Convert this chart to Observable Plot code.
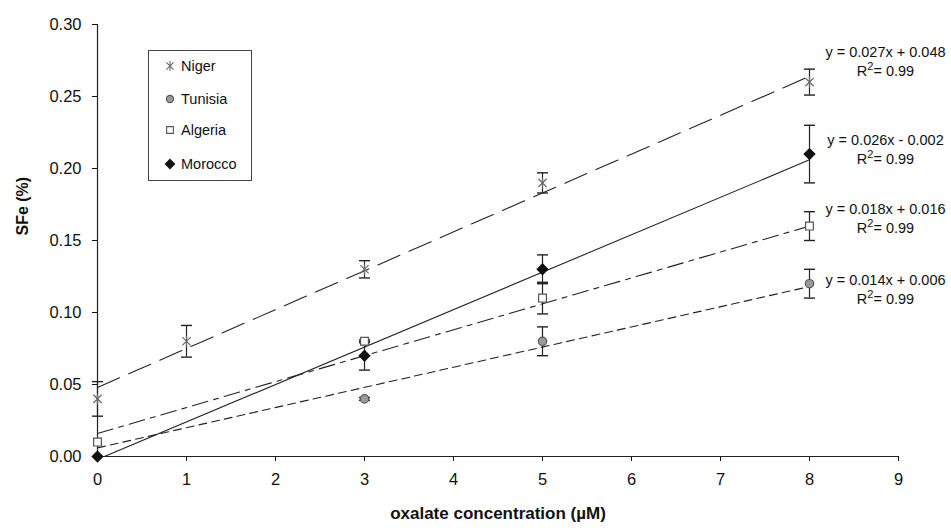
<!DOCTYPE html>
<html>
<head>
<meta charset="utf-8">
<script src="https://cdn.jsdelivr.net/npm/d3@7"></script>
<script src="https://cdn.jsdelivr.net/npm/@observablehq/plot@0.6"></script>
<style>
  html, body { margin: 0; padding: 0; background: #fff; }
  #wrap { position: relative; width: 951px; height: 528px; font-family: "Liberation Sans", Arial, sans-serif; }
  #legend { position: absolute; left: 148px; top: 50px; width: 102px; height: 129px; border: 1px solid #444; background: #fff; }
  .item { position: absolute; left: 0; height: 20px; display: flex; align-items: center; font-size: 14.5px; color: #111; }
  .item svg { margin-left: 14px; margin-right: 4px; }
</style>
</head>
<body>
<div id="wrap">
  <div id="chart"></div>
  <div id="legend"></div>
</div>
<script>
// ---- data ----
const countries = ["Niger", "Tunisia", "Algeria", "Morocco"];

const nigerX   = [0, 1, 3, 5, 8];
const nigerY   = [0.04, 0.08, 0.13, 0.19, 0.26];
const nigerErr = [0.012, 0.011, 0.006, 0.007, 0.009];

const tunisiaX   = [3, 5, 8];
const tunisiaY   = [0.04, 0.08, 0.12];
const tunisiaErr = [0.001, 0.010, 0.010];

const algeriaX   = [0, 3, 5, 8];
const algeriaY   = [0.01, 0.08, 0.11, 0.16];
const algeriaErr = [0, 0.001, 0.011, 0.010];

const moroccoX   = [0, 3, 5, 8];
const moroccoY   = [0.00, 0.07, 0.13, 0.21];
const moroccoErr = [0, 0.010, 0.010, 0.020];

// fitted equations as printed on the chart
const fitSlope     = [0.027, 0.014, 0.018, 0.026];
const fitIntercept = [0.048, 0.006, 0.016, -0.002];
const fitR2        = [0.99, 0.99, 0.99, 0.99];
const fitRange     = [0, 8];

const xTicks = [0, 1, 2, 3, 4, 5, 6, 7, 8, 9];
const yTicks = [0, 0.05, 0.10, 0.15, 0.20, 0.25, 0.30];

const xTitle = "oxalate concentration (µM)";
const yTitle = "SFe (%)";

// ---- styling (not data) ----
const starSymbol = {draw(ctx, size) {
  const r = Math.sqrt(size / Math.PI) * 1.1;
  const a = r * 0.72;
  ctx.moveTo(0, -r); ctx.lineTo(0, r);
  ctx.moveTo(-a, -a); ctx.lineTo(a, a);
  ctx.moveTo(-a, a); ctx.lineTo(a, -a);
}};
const seriesStyle = {
  Niger:   {symbol: starSymbol, fill: "none",    stroke: "#6a6a6a", r: 5.2, dash: "24,10"},
  Tunisia: {symbol: "circle",   fill: "#9a9a9a", stroke: "#555",    r: 4.2, dash: "8,5"},
  Algeria: {symbol: "square",   fill: "#fff",    stroke: "#555",    r: 4.4, dash: "16,6,5,6"},
  Morocco: {symbol: "diamond2", fill: "#111",    stroke: "#111",    r: 4.8, dash: null}
};
const labelDy = [-22, 4.5, -9, -5.5];

// ---- build tables ----
const raw = {
  Niger:   [nigerX, nigerY, nigerErr],
  Tunisia: [tunisiaX, tunisiaY, tunisiaErr],
  Algeria: [algeriaX, algeriaY, algeriaErr],
  Morocco: [moroccoX, moroccoY, moroccoErr]
};
const points = countries.flatMap(c => raw[c][0].map((x, i) => ({country: c, x, y: raw[c][1][i], err: raw[c][2][i]})));
const withErr = points.filter(d => d.err > 0);
const caps = withErr.flatMap(d => [{x: d.x, y: d.y - d.err}, {x: d.x, y: d.y + d.err}]);

const fits = countries.map((c, i) => fitRange.map(x => ({country: c, x, y: fitSlope[i] * x + fitIntercept[i]})));

const lastPoints = countries.map((c, i) => {
  const xs = raw[c][0], ys = raw[c][1];
  const s = fitIntercept[i] < 0 ? " - " : " + ";
  return {
    country: c, x: xs[xs.length - 1], y: ys[ys.length - 1],
    label: `y = ${fitSlope[i].toFixed(3)}x${s}${Math.abs(fitIntercept[i]).toFixed(3)}\nR²= ${fitR2[i].toFixed(2)}`
  };
});

const capSymbol = {draw(ctx) { ctx.moveTo(-5.5, 0); ctx.lineTo(5.5, 0); }};

const chart = Plot.plot({
  width: 951,
  height: 528,
  marginTop: 24,
  marginBottom: 72,
  marginLeft: 97,
  marginRight: 53,
  style: {fontFamily: "'Liberation Sans', Arial, sans-serif", fontSize: "16.5px", color: "#111", background: "#fff"},
  x: {domain: [0, 9], ticks: xTicks, tickSize: 5, tickPadding: 12, tickFormat: d3.format("d"), label: null},
  y: {domain: [0, 0.30], ticks: yTicks, tickSize: 5, tickPadding: 11, tickFormat: d3.format(".2f"), label: null},
  marks: [
    Plot.ruleX([0], {stroke: "#222", strokeWidth: 1.2}),
    Plot.ruleY([0], {stroke: "#222", strokeWidth: 1.2}),
    ...countries.map((c, i) => Plot.line(fits[i], {
      x: "x", y: "y", stroke: "#222", strokeWidth: 1.1, clip: true,
      strokeDasharray: seriesStyle[c].dash || undefined
    })),
    Plot.ruleX(withErr, {x: "x", y1: d => d.y - d.err, y2: d => d.y + d.err, stroke: "#222", strokeWidth: 1.2}),
    Plot.dot(caps, {x: "x", y: "y", symbol: capSymbol, fill: "none", stroke: "#222", strokeWidth: 1.4, r: 5}),
    ...countries.map(c => Plot.dot(points.filter(d => d.country === c), {
      x: "x", y: "y", symbol: seriesStyle[c].symbol, r: seriesStyle[c].r,
      fill: seriesStyle[c].fill, stroke: seriesStyle[c].stroke, strokeWidth: 1.2
    })),
    ...countries.map((c, i) => Plot.text([lastPoints[i]], {
      x: "x", y: "y", text: "label", dx: 76, dy: labelDy[i],
      fontSize: 14.5, fill: "#111", textAnchor: "middle", lineHeight: 1.3
    })),
    Plot.text([xTitle], {frameAnchor: "bottom", dy: 62, fontSize: 17, fontWeight: "bold", fill: "#111", letterSpacing: 1.4}),
    Plot.text([yTitle], {frameAnchor: "left", dx: -75, dy: -5, rotate: -90, fontSize: 16, fontWeight: "bold", fill: "#111"})
  ]
});
document.getElementById("chart").appendChild(chart);

// render the "²" as a raised superscript, like the reference
chart.querySelectorAll("tspan").forEach(t => {
  const s = t.textContent;
  if (s.startsWith("R²")) {
    t.textContent = "R";
    const sup = document.createElementNS("http://www.w3.org/2000/svg", "tspan");
    sup.setAttribute("dy", "-6");
    sup.setAttribute("font-size", "11");
    sup.textContent = "2";
    const rest = document.createElementNS("http://www.w3.org/2000/svg", "tspan");
    rest.setAttribute("dy", "6");
    rest.textContent = s.slice(2);
    t.appendChild(sup);
    t.appendChild(rest);
  }
});

// ---- legend (HTML) ----
const legend = document.getElementById("legend");
const legendTop = [5, 38, 69, 103];
countries.forEach((c, i) => {
  const st = seriesStyle[c];
  const item = document.createElement("div");
  item.className = "item";
  item.style.top = legendTop[i] + "px";
  const size = Math.PI * st.r * st.r * 0.75;
  const type = typeof st.symbol === "string"
    ? d3["symbol" + st.symbol.charAt(0).toUpperCase() + st.symbol.slice(1)]
    : st.symbol;
  const path = d3.symbol(type, size)();
  item.innerHTML = `<svg width="14" height="14" viewBox="-7 -7 14 14"><path d="${path}" fill="${st.fill}" stroke="${st.stroke}" stroke-width="1.1"></path></svg><span>${c}</span>`;
  legend.appendChild(item);
});
</script>
</body>
</html>
